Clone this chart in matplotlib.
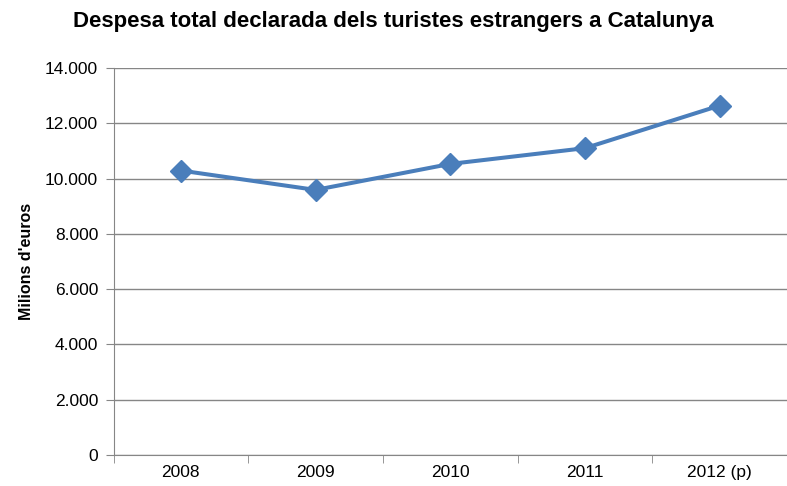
import matplotlib.pyplot as plt
from matplotlib.ticker import FuncFormatter, FixedLocator

years = ["2008", "2009", "2010", "2011", "2012 (p)"]
spending = [10290, 9590, 10530, 11100, 12640]

plt.rcParams["font.family"] = ["Liberation Sans", "DejaVu Sans"]

fig = plt.figure(figsize=(7.87, 4.86), dpi=100)
ax = fig.add_axes([113.5 / 787, 1 - 455 / 486, 1 - 113.5 / 787, (455 - 68) / 486])

x = list(range(len(years)))
ax.plot(x, spending, color="#4A7EBB", lw=2.9, marker="D", markersize=11,
        markeredgecolor="#4A7EBB", markerfacecolor="#4A7EBB", zorder=3)

ax.set_xlim(-0.5, len(years) - 0.5)
ax.set_ylim(0, 14000)
ax.set_yticks(range(0, 14001, 2000))
ax.yaxis.set_major_formatter(FuncFormatter(lambda v, p: f"{int(v):,}".replace(",", ".")))
ax.grid(axis="y", color="#868686", lw=1)
ax.set_axisbelow(True)

ax.set_xticks(x)
ax.set_xticklabels(years)
ax.xaxis.set_minor_locator(FixedLocator([i - 0.5 for i in range(len(years) + 1)]))
ax.tick_params(axis="x", which="major", length=0, pad=7, labelsize=12.5)
ax.tick_params(axis="x", which="minor", length=6, color="#868686")
ax.tick_params(axis="y", length=6, color="#868686", labelsize=12.5, pad=5)

for s in ["top", "right"]:
    ax.spines[s].set_visible(False)
for s in ["left", "bottom"]:
    ax.spines[s].set_color("#868686")

ax.set_ylabel("Milions d'euros", fontsize=11.5, fontweight="bold", labelpad=8)
fig.text(0.5, 1 - 22 / 486, "Despesa total declarada dels turistes estrangers a Catalunya",
         ha="center", va="center", fontsize=16, fontweight="bold")

fig.savefig("out.png", dpi=100)
